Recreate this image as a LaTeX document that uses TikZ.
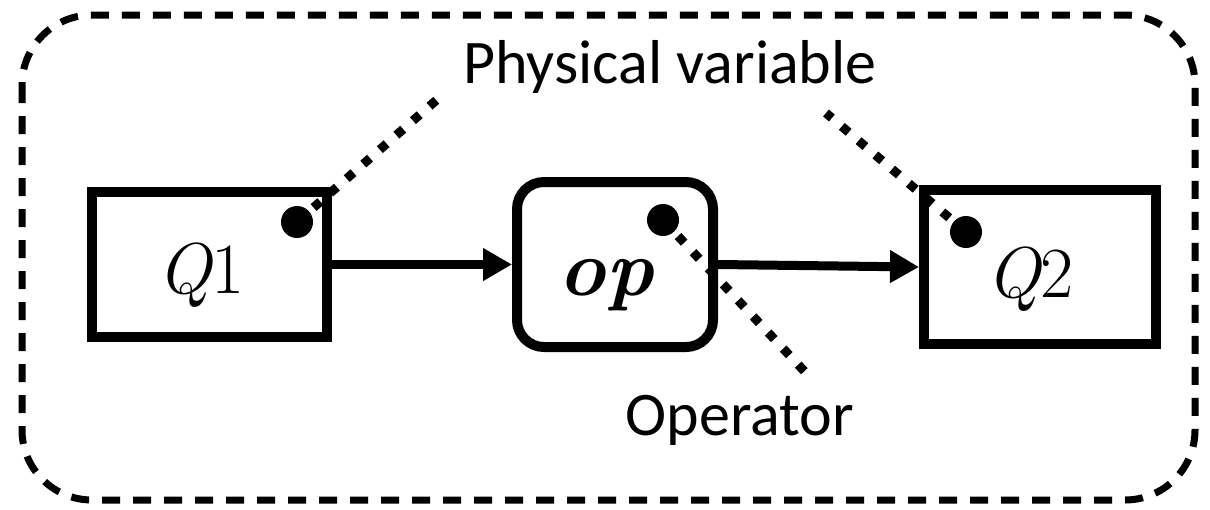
\documentclass[tikz,border=0pt]{standalone}
\usepackage{fontspec}
\setmainfont{Carlito}
\newfontfamily\lmfont{Latin Modern Roman}
\usetikzlibrary{arrows.meta}
\begin{document}
\begin{tikzpicture}[x=1pt,y=-1pt,
  box/.style={draw, line width=10pt, inner sep=0pt},
  lbl/.style={anchor=base, inner sep=0pt, font=\fontsize{62}{70}\selectfont},
  mth/.style={anchor=base, inner sep=0pt, font=\lmfont\fontsize{72}{80}\selectfont},
  flow/.style={line width=9pt, -{Triangle[length=29pt,width=31pt]}},
  pointer/.style={line width=9pt, dash pattern=on 9pt off 13pt},
  dotmark/.style={fill=black}]
\useasboundingbox (0,0) rectangle (1210,509);
\draw[line width=7pt, dash pattern=on 18pt off 13pt, rounded corners=70pt] (22,15) rectangle (1195,500);
% boxes
\node[box, minimum width=235pt, minimum height=145pt] (q1) at (209.5,264.5) {};
\node[box, rounded corners=27pt, minimum width=196pt, minimum height=165pt] (op) at (615,264.5) {};
\node[box, minimum width=232pt, minimum height=154pt] (q2) at (1040,267) {};
% texts in boxes
\node[mth] (q1t) at (201,293) {\itshape Q\upshape 1};
\node[mth, font=\lmfont\fontsize{80}{90}\selectfont\bfseries\itshape] (opt) at (606,295) {op};
\node[mth] (q2t) at (1030,297) {\itshape Q\upshape 2};
% arrows
\draw[flow] (q1.east) -- (op.west);
\draw[flow] (op.east) -- (q2.west);
% dots
\coordinate (d1) at (297,222);
\coordinate (d2) at (663,220);
\coordinate (d3) at (966,232);
\coordinate (e1) at (440,97);
\coordinate (e2) at (806,373);
\coordinate (e3) at (826,113);
\draw[pointer] (d1) -- (e1);
\draw[pointer] (d2) -- (e2);
\draw[pointer] (d3) -- (e3);
\fill[dotmark] (d1) circle (16pt);
\fill[dotmark] (d2) circle (16pt);
\fill[dotmark] (d3) circle (16pt);
% labels
\node[lbl] (pv) at (670,83) {Physical variable};
\node[lbl] (opl) at (740,435) {Operator};
\end{tikzpicture}
\end{document}
